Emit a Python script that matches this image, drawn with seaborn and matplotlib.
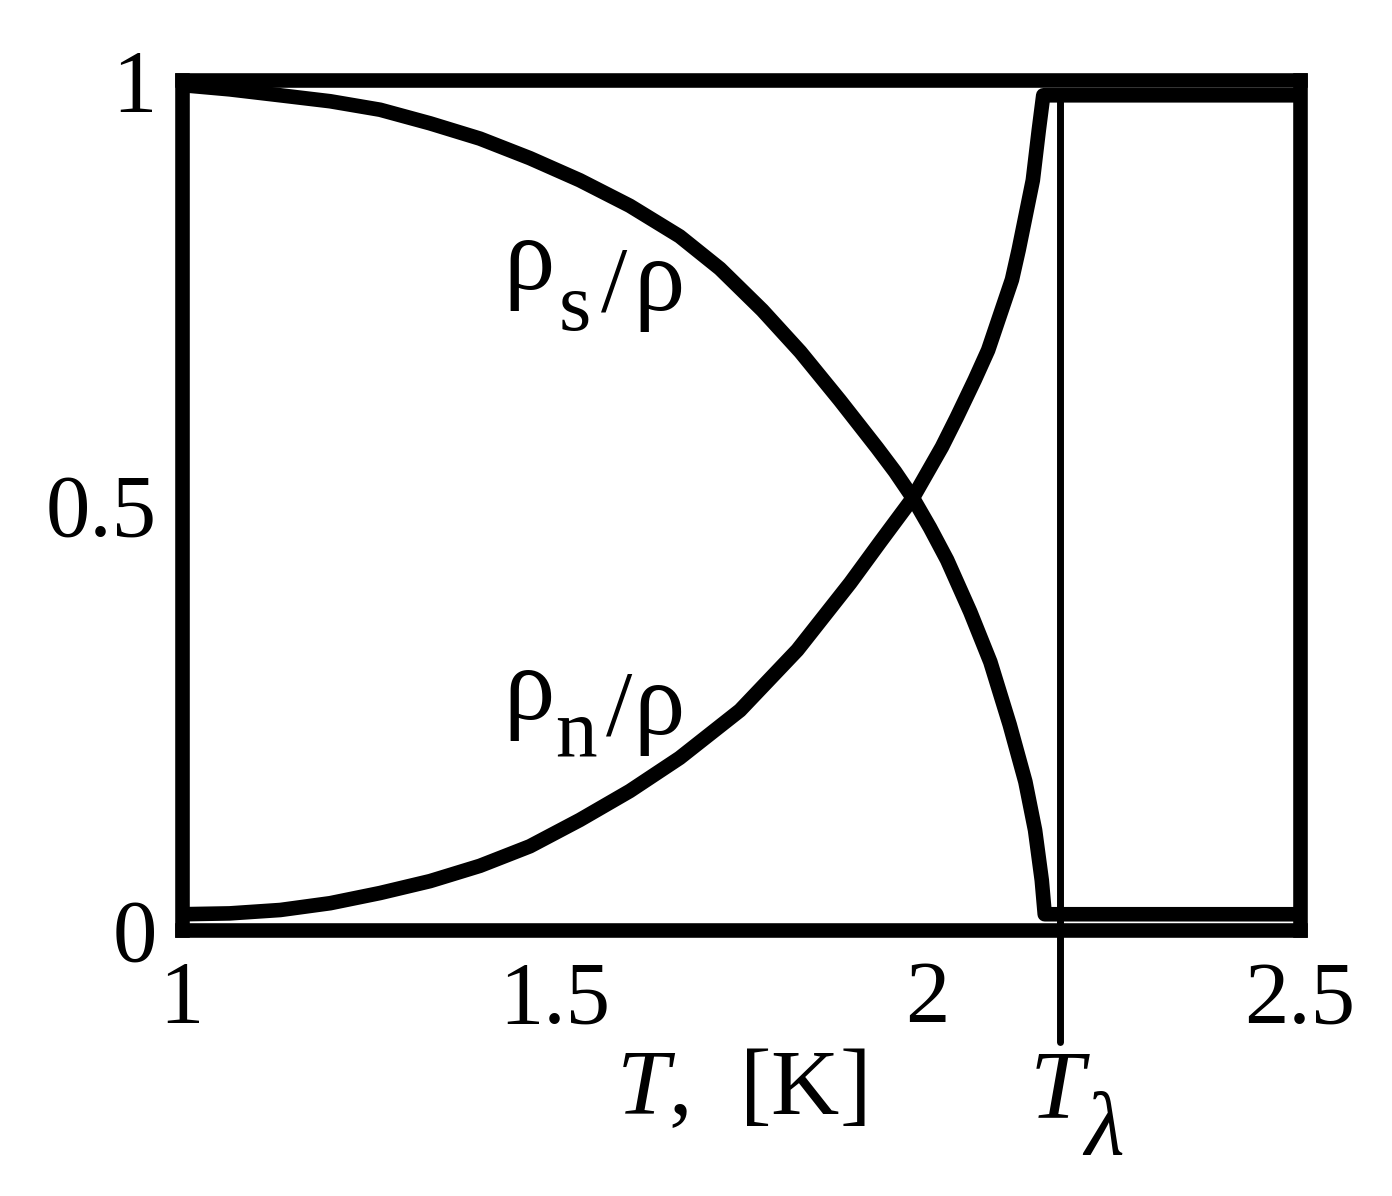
import matplotlib
matplotlib.use("Agg")
import matplotlib.pyplot as plt
import seaborn as sns

# temperatures (K) and superfluid / normal fractions
t_s = [1.000, 1.064, 1.132, 1.199, 1.266, 1.333, 1.400, 1.467, 1.534, 1.601,
       1.668, 1.722, 1.779, 1.830, 1.883, 1.933, 1.957, 1.981, 2.004, 2.027,
       2.058, 2.085, 2.111, 2.132, 2.145, 2.154, 2.158, 2.500]
rho_s = [0.994, 0.989, 0.982, 0.975, 0.965, 0.949, 0.931, 0.908, 0.882, 0.852,
         0.816, 0.778, 0.729, 0.680, 0.623, 0.567, 0.539, 0.508, 0.473, 0.435,
         0.374, 0.315, 0.241, 0.174, 0.117, 0.058, 0.018, 0.018]

t_n = [1.000, 1.064, 1.132, 1.199, 1.266, 1.333, 1.400, 1.467, 1.534, 1.601,
       1.668, 1.749, 1.826, 1.897, 1.937, 1.981, 2.020, 2.040, 2.064, 2.082,
       2.114, 2.123, 2.142, 2.150, 2.156, 2.500]
rho_n = [0.018, 0.019, 0.023, 0.031, 0.043, 0.057, 0.075, 0.098, 0.129, 0.163,
         0.202, 0.258, 0.329, 0.408, 0.456, 0.508, 0.568, 0.603, 0.647, 0.682,
         0.765, 0.800, 0.882, 0.941, 0.982, 0.982]

t_lambda = 2.178
x_ticks = [1, 1.5, 2, 2.5]
x_labels = ["1", "1.5", "2", "2.5"]
y_ticks = [0, 0.5, 1]
y_labels = ["0", "0.5", "1"]

W, H = 1392, 1196

sns.set_theme(style="white")
plt.rcParams["font.family"] = ["Liberation Serif", "DejaVu Serif"]
plt.rcParams["mathtext.fontset"] = "custom"
plt.rcParams["mathtext.rm"] = "Liberation Serif"
plt.rcParams["mathtext.it"] = "Liberation Serif:italic"

fig = plt.figure(figsize=(W / 100, H / 100), dpi=100)
ax = fig.add_axes([0.1307, 0.2228, 0.8029, 0.7103])

sns.lineplot(x=t_s, y=rho_s, ax=ax, color="black", linewidth=10.5, sort=False,
             estimator=None, solid_capstyle="butt", solid_joinstyle="round")
sns.lineplot(x=t_n, y=rho_n, ax=ax, color="black", linewidth=10.5, sort=False,
             estimator=None, solid_capstyle="butt", solid_joinstyle="round")

# lambda point marker, running below the frame
ax.axvline(t_lambda, ymin=-0.132, ymax=0.982, color="black", linewidth=5,
           clip_on=False)

ax.set_xlim(1, 2.5)
ax.set_ylim(0, 1)
ax.set_xticks(x_ticks)
ax.set_xticklabels(x_labels)
ax.set_yticks(y_ticks)
ax.set_yticklabels(y_labels)
ax.tick_params(axis="both", length=0, labelsize=64, colors="black")
ax.tick_params(axis="x", pad=22)
ax.tick_params(axis="y", pad=18)
for sp in ax.spines.values():
    sp.set_linewidth(10.5)
    sp.set_color("black")
    sp.set_visible(True)
ax.grid(False)

ax.set_xlabel("$T$,  [K]", fontsize=68, color="black", labelpad=6)


def put(x, y, s, size, style="normal"):
    # place text by its left edge and baseline, in figure pixels from top-left
    fig.text(x / W, 1 - y / H, s, fontsize=size, fontstyle=style,
             ha="left", va="baseline", color="black")


# rho_s / rho label
put(503, 289, "ρ", 74)
put(559, 330, "s", 60)
put(601, 311, "/", 68)
put(633, 310, "ρ", 74)
# rho_n / rho label
put(503, 719, "ρ", 74)
put(555, 755, "n", 60)
put(606, 735, "/", 68)
put(633, 734, "ρ", 74)
# T_lambda label
put(1030, 1117, "T", 70, "italic")
put(1084, 1155, "λ", 66, "italic")

fig.savefig("out.png", dpi=100, facecolor="white")
